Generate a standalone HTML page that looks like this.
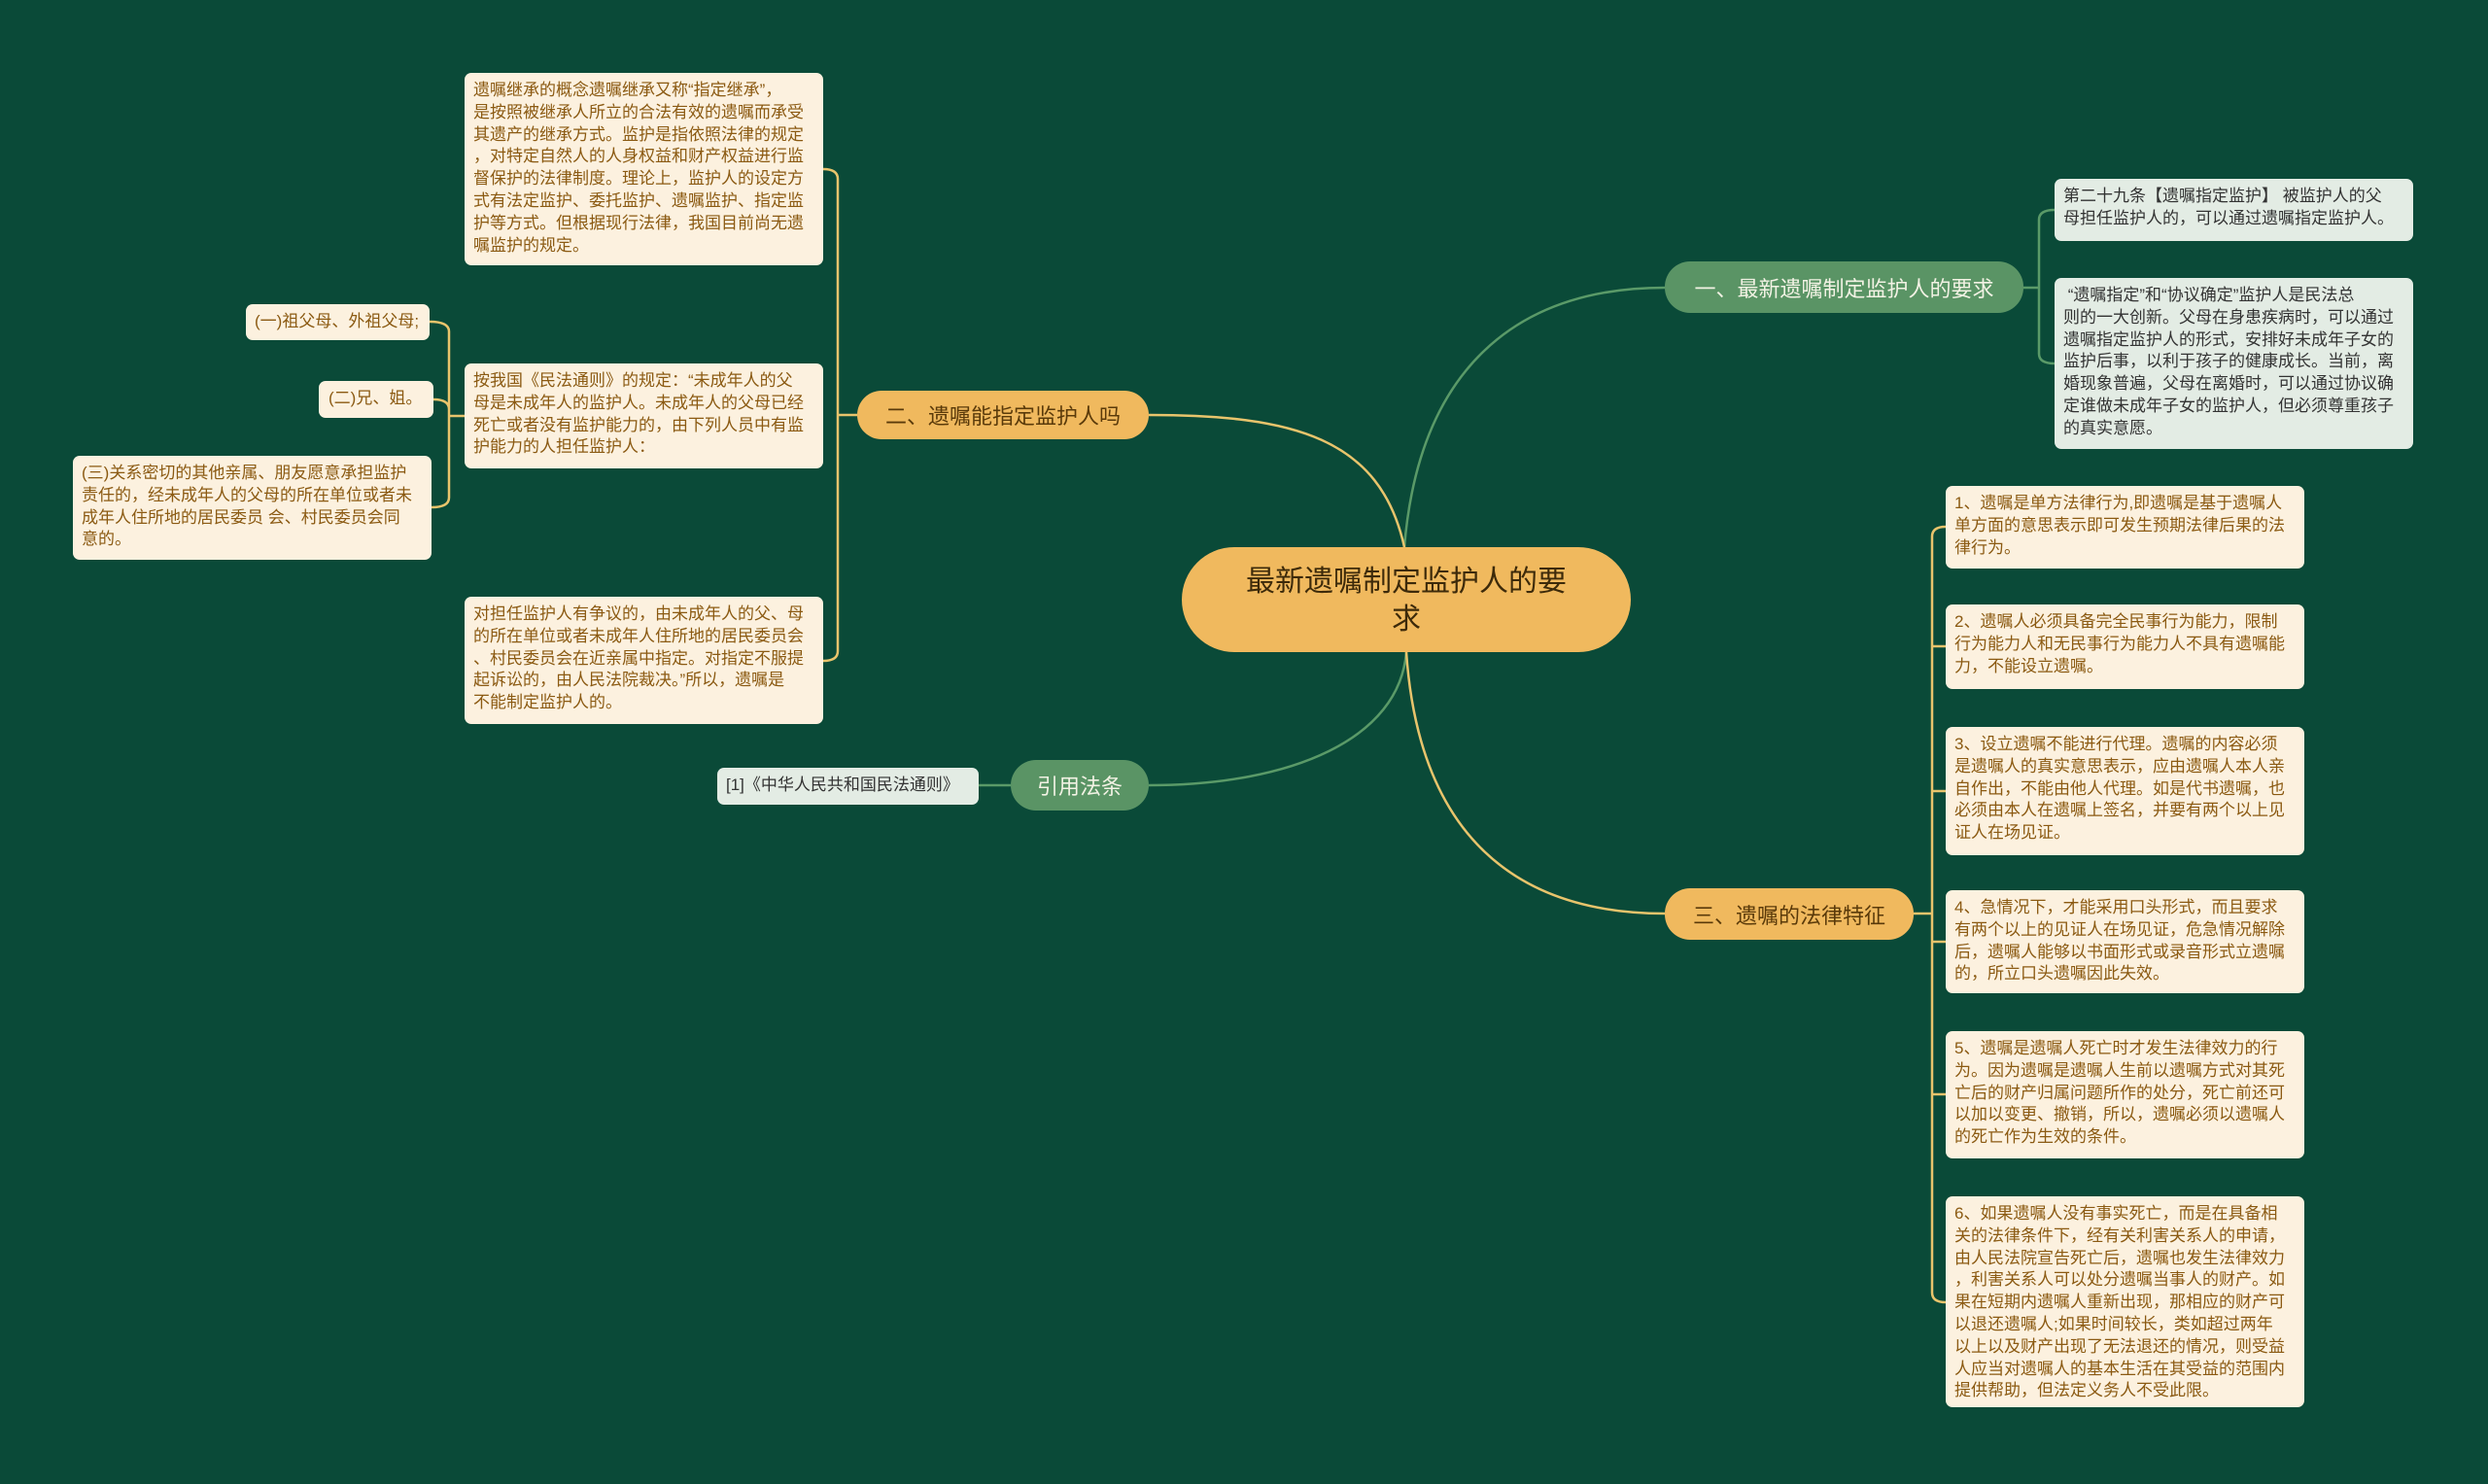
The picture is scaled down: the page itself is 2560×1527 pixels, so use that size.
<!DOCTYPE html>
<html><head><meta charset="utf-8"><style>
body{margin:0;width:2560px;height:1527px;background:#0a4a38;position:relative;overflow:hidden;font-family:"Liberation Sans","Noto Sans CJK SC",sans-serif}
.n{position:absolute;box-sizing:border-box;white-space:nowrap}
.leaf{background:#fcf1df;color:#8b5a12;font-size:17px;line-height:22.8px;padding:7px 9px;border-radius:7px}
.gleaf{background:#e3ece4;color:#333;font-size:17px;line-height:22.8px;padding:7px 9px;border-radius:7px}
.ob{background:#f0b95e;color:#5a3a0a;font-size:22px;border-radius:26px;display:flex;align-items:center;justify-content:center}
.gb{background:#5a9465;color:#f2f2e4;font-size:22px;border-radius:26px;display:flex;align-items:center;justify-content:center}
</style></head><body>
<svg width="2560" height="1527" style="position:absolute;left:0;top:0" fill="none" stroke-width="2.5">
<g stroke="#5a9a68">
<path d="M1445 563 C1460 380,1560 296,1713 296"/>
<path d="M1447 671 C1440 760,1330 808,1182 808"/>
<path d="M2082 296 L2098 296 M2098 296 L2098 226 Q2098 216 2114 216 M2098 296 L2098 364 Q2098 374 2114 374"/>
<path d="M1040 808 L1007 808"/>
</g>
<g stroke="#e8c46c">
<path d="M1447 671 C1460 860,1560 940,1713 940"/>
<path d="M1182 427 C1330 427,1420 450,1445 563"/>
<path d="M1969 940 L1988 940 M1988 940 L1988 552 Q1988 542 2002 542 M1988 665 Q1988 665 2002 665 M1988 814 L2002 814 M1988 969 L2002 969 M1988 1126 L2002 1126 M1988 940 L1988 1330 Q1988 1340 2002 1340"/>
<path d="M882 427 L862 427 M862 427 L862 184 Q862 174 847 174 M862 427 L862 670 Q862 680 847 680"/>
<path d="M478 428 L462 428 M462 428 L462 341 Q462 331 442 331 M462 428 L462 421 Q462 411 446 411 M462 428 L462 512 Q462 522 444 522"/>
</g>
</svg>

<div class="n" style="left:1216px;top:563px;width:462px;height:108px;background:#f0b95e;border-radius:54px;color:#3d2a0a;font-size:30px;line-height:39px;text-align:center;padding-top:16px">最新遗嘱制定监护人的要<br>求</div>

<div class="n gb" style="left:1713px;top:269px;width:369px;height:53px">一、最新遗嘱制定监护人的要求</div>
<div class="n ob" style="left:882px;top:402px;width:300px;height:50px">二、遗嘱能指定监护人吗</div>
<div class="n gb" style="left:1040px;top:782px;width:142px;height:52px">引用法条</div>
<div class="n ob" style="left:1713px;top:914px;width:256px;height:53px">三、遗嘱的法律特征</div>

<div class="n gleaf" style="left:2114px;top:184px;width:369px;height:64px">第二十九条【遗嘱指定监护】 被监护人的父<br>母担任监护人的，可以通过遗嘱指定监护人。</div>
<div class="n gleaf" style="left:2114px;top:286px;width:369px;height:176px">&nbsp;“遗嘱指定”和“协议确定”监护人是民法总<br>则的一大创新。父母在身患疾病时，可以通过<br>遗嘱指定监护人的形式，安排好未成年子女的<br>监护后事，以利于孩子的健康成长。当前，离<br>婚现象普遍，父母在离婚时，可以通过协议确<br>定谁做未成年子女的监护人，但必须尊重孩子<br>的真实意愿。</div>

<div class="n leaf" style="left:2002px;top:500px;width:369px;height:85px">1、遗嘱是单方法律行为,即遗嘱是基于遗嘱人<br>单方面的意思表示即可发生预期法律后果的法<br>律行为。</div>
<div class="n leaf" style="left:2002px;top:622px;width:369px;height:87px">2、遗嘱人必须具备完全民事行为能力，限制<br>行为能力人和无民事行为能力人不具有遗嘱能<br>力，不能设立遗嘱。</div>
<div class="n leaf" style="left:2002px;top:748px;width:369px;height:132px">3、设立遗嘱不能进行代理。遗嘱的内容必须<br>是遗嘱人的真实意思表示，应由遗嘱人本人亲<br>自作出，不能由他人代理。如是代书遗嘱，也<br>必须由本人在遗嘱上签名，并要有两个以上见<br>证人在场见证。</div>
<div class="n leaf" style="left:2002px;top:916px;width:369px;height:106px">4、急情况下，才能采用口头形式，而且要求<br>有两个以上的见证人在场见证，危急情况解除<br>后，遗嘱人能够以书面形式或录音形式立遗嘱<br>的，所立口头遗嘱因此失效。</div>
<div class="n leaf" style="left:2002px;top:1061px;width:369px;height:131px">5、遗嘱是遗嘱人死亡时才发生法律效力的行<br>为。因为遗嘱是遗嘱人生前以遗嘱方式对其死<br>亡后的财产归属问题所作的处分，死亡前还可<br>以加以变更、撤销，所以，遗嘱必须以遗嘱人<br>的死亡作为生效的条件。</div>
<div class="n leaf" style="left:2002px;top:1231px;width:369px;height:217px">6、如果遗嘱人没有事实死亡，而是在具备相<br>关的法律条件下，经有关利害关系人的申请，<br>由人民法院宣告死亡后，遗嘱也发生法律效力<br>，利害关系人可以处分遗嘱当事人的财产。如<br>果在短期内遗嘱人重新出现，那相应的财产可<br>以退还遗嘱人;如果时间较长，类如超过两年<br>以上以及财产出现了无法退还的情况，则受益<br>人应当对遗嘱人的基本生活在其受益的范围内<br>提供帮助，但法定义务人不受此限。</div>

<div class="n leaf" style="left:478px;top:75px;width:369px;height:198px">遗嘱继承的概念遗嘱继承又称“指定继承”，<br>是按照被继承人所立的合法有效的遗嘱而承受<br>其遗产的继承方式。监护是指依照法律的规定<br>，对特定自然人的人身权益和财产权益进行监<br>督保护的法律制度。理论上，监护人的设定方<br>式有法定监护、委托监护、遗嘱监护、指定监<br>护等方式。但根据现行法律，我国目前尚无遗<br>嘱监护的规定。</div>
<div class="n leaf" style="left:478px;top:374px;width:369px;height:108px">按我国《民法通则》的规定：“未成年人的父<br>母是未成年人的监护人。未成年人的父母已经<br>死亡或者没有监护能力的，由下列人员中有监<br>护能力的人担任监护人：</div>
<div class="n leaf" style="left:478px;top:614px;width:369px;height:131px">对担任监护人有争议的，由未成年人的父、母<br>的所在单位或者未成年人住所地的居民委员会<br>、村民委员会在近亲属中指定。对指定不服提<br>起诉讼的，由人民法院裁决。”所以，遗嘱是<br>不能制定监护人的。</div>

<div class="n leaf" style="left:253px;top:313px;width:189px;height:37px">(一)祖父母、外祖父母;</div>
<div class="n leaf" style="left:328px;top:392px;width:118px;height:38px;padding-left:10px">(二)兄、姐。</div>
<div class="n leaf" style="left:75px;top:469px;width:369px;height:107px">(三)关系密切的其他亲属、朋友愿意承担监护<br>责任的，经未成年人的父母的所在单位或者未<br>成年人住所地的居民委员 会、村民委员会同<br>意的。</div>

<div class="n gleaf" style="left:738px;top:790px;width:269px;height:38px">[1]《中华人民共和国民法通则》</div>
</body></html>
